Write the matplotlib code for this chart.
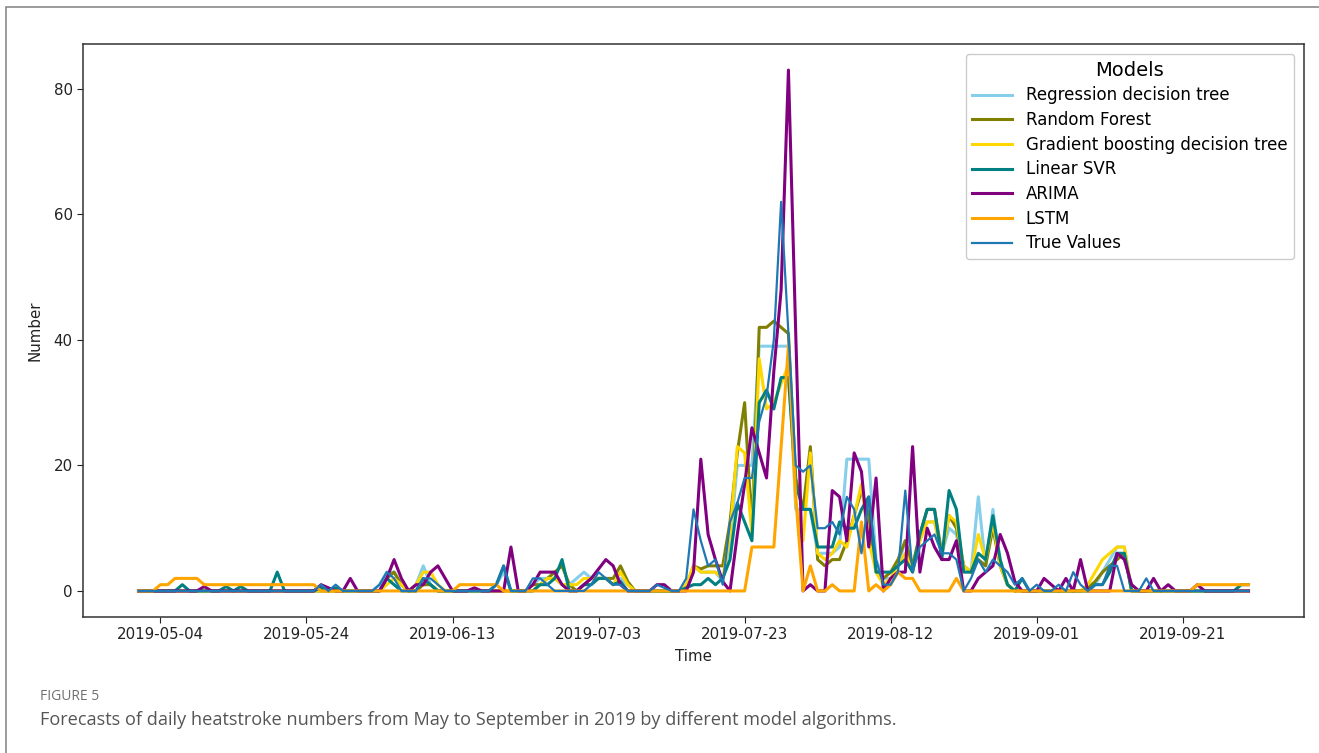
import matplotlib
matplotlib.use("Agg")
import matplotlib.pyplot as plt
import matplotlib.dates as mdates
import pandas as pd
from matplotlib.patches import Rectangle

# ---------------- data (daily, 2019-05-01 .. 2019-09-30) ----------------
start_date = "2019-05-01"
end_date = "2019-09-30"

true_values = [
    0, 0, 0, 0, 0, 0, 0, 0, 0, 0,
    0, 0, 0, 0, 0, 0, 0, 0, 0, 0,
    0, 0, 0, 0, 0, 1, 0, 1, 0, 0,
    0, 0, 0, 1, 3, 2, 0, 0, 0, 2,
    2, 1, 0, 0, 0, 0, 0, 0, 0, 1,
    4, 0, 0, 0, 2, 2, 1, 0, 0, 0,
    0, 0, 1, 3, 2, 1, 1, 0, 0, 0,
    0, 1, 0.5, 0, 0, 2, 13, 8, 4, 5,
    1, 11, 14, 18, 18, 27, 31, 40, 62, 41,
    20, 19, 20, 10, 10, 11, 9, 15, 13, 6,
    15, 5, 1, 1, 3, 16, 3, 7, 8, 9,
    6, 6, 5, 0, 2, 5, 3, 5, 4, 3,
    1, 2, 0, 1, 0, 0, 1, 0, 3, 1,
    0, 1, 1, 4, 4, 0, 0, 0, 2, 0,
    0, 0, 0, 0, 0, 0, 0, 0, 0, 0,
    0, 0, 0,
]

arima = [
    0, 0, 0, 0, 0, 0, 0, 0, 0, 0.7,
    0, 0, 0, 0, 0, 0, 0, 0, 0, 0,
    0, 0, 0, 0, 0, 1, 0.5, 0, 0, 2,
    0, 0, 0, 0, 2, 5, 2, 0, 1, 1,
    3, 4, 2, 0, 0, 0, 0.5, 0, 0, 0,
    0, 7, 0, 0, 1, 3, 3, 3, 1, 0,
    0, 1, 2, 3.5, 5, 4, 1, 0, 0, 0,
    0, 1, 1, 0, 0, 0, 3, 21, 9, 5,
    1.5, 0, 9, 17, 26, 22, 18, 35, 48, 83,
    41, 0, 1, 0, 0, 16, 15, 8, 22, 19,
    7, 18, 0, 2, 3, 3, 23, 3, 10, 7,
    5, 5, 8, 0, 0, 2, 3, 4, 9, 6,
    1.5, 0, 0, 0, 2, 1, 0, 2, 0, 5,
    0, 0, 0, 0, 6, 5, 1, 0, 0, 2,
    0, 1, 0, 0, 0, 1, 0, 0, 0, 0,
    0, 0, 0,
]

linear_svr = [
    0, 0, 0, 0, 0, 0, 1, 0, 0, 0,
    0, 0, 0.7, 0, 0.7, 0, 0, 0, 0, 3,
    0, 0, 0, 0, 0, 0.5, 0, 0.5, 0, 0,
    0, 0, 0, 0, 2, 1, 0, 0, 0, 2,
    1, 0, 0, 0, 0, 0, 0, 0, 0, 1,
    4, 0, 0, 0, 0, 1, 1, 2, 5, 0,
    0, 1, 1, 2, 2, 1, 1.5, 0, 0, 0,
    0, 0, 0, 0, 0, 0.5, 1, 1, 2, 1,
    2, 5, 14, 11, 8, 30, 32, 29, 34, 34,
    17, 13, 13, 7, 7, 7, 11, 10, 10, 13,
    15, 3, 3, 3, 4, 5, 3, 9, 13, 13,
    5, 16, 13, 3, 3, 6, 5, 12, 5, 1,
    0, 2, 0, 0, 0, 0, 0, 0, 0, 0,
    0, 1, 1, 3, 6, 6, 0, 0, 0, 0,
    0, 0, 0, 0, 0, 0, 0, 0, 0, 0,
    0, 1, 1,
]

random_forest = [
    0, 0, 0, 0, 0, 0, 0, 0, 0, 0,
    0, 0, 0, 0, 0, 0, 0, 0, 0, 0,
    0, 0, 0, 0, 0, 0, 0, 0, 0, 0,
    0, 0, 0, 0, 2, 3, 1, 0, 0, 1,
    1, 0, 0, 0, 0, 0, 0, 0, 0, 0,
    0, 0, 0, 0, 1, 1, 2, 3, 4, 1,
    0, 1, 2, 2, 2, 2, 4, 1.5, 0, 0,
    0, 0, 0, 0, 0, 0.5, 4, 3.5, 4, 4,
    4, 11, 22, 30, 10, 42, 42, 43, 42, 41,
    18, 13, 23, 5, 4, 5, 5, 8, 12, 16,
    12, 3, 2, 3, 5, 8, 4, 9, 13, 13,
    6, 12, 10, 4, 3, 5, 4, 10, 4, 1,
    0, 0, 0, 0, 0, 0, 0, 0, 0, 0,
    0.5, 1.5, 3, 4, 5, 6, 0, 0, 0, 0,
    0, 0, 0, 0, 0, 0, 0, 0, 0, 0,
    0, 0, 0,
]

gbdt = [
    0, 0, 0, 0, 0, 0, 0, 0, 0, 0,
    0, 0, 0, 0, 0, 0, 0, 0, 0, 0,
    0, 0, 0, 0, 0, 0, 0, 0, 0, 0,
    0, 0, 0, 0, 1, 2, 1, 0, 1, 3,
    3, 1, 0, 0, 0, 0, 0, 0, 0, 0,
    0, 0, 0, 0, 0, 1, 2, 2, 1, 1,
    1, 2, 2, 2, 2, 1, 3, 1, 0, 0,
    0, 0, 0, 0, 0, 1, 4, 3, 3, 3,
    2, 9, 23, 22, 9, 37, 29, 30, 33, 36,
    14, 8, 22, 6, 5, 6, 8, 7, 12, 17,
    8, 3, 1, 2, 4, 6, 3, 8, 11, 11,
    6, 12, 11, 4, 3, 9, 5, 11, 4, 1,
    0, 0, 0, 0, 0, 0, 0, 0, 0, 0,
    1, 3, 5, 6, 7, 7, 0, 0, 0, 0,
    0, 0, 0, 0, 0, 0, 0, 0, 0, 0,
    0, 0, 0,
]

regression_tree = [
    0, 0, 0, 0, 0, 0, 0, 0, 0, 0,
    0, 0, 0, 0, 0, 0, 0, 0, 0, 0,
    0, 0, 0, 0, 0, 0, 0, 0, 0, 0,
    0, 0, 0, 1, 3, 3, 1, 0, 1, 4,
    1, 0, 0, 0, 0, 0, 0, 0, 0, 1,
    3, 0, 0, 0, 1, 2, 2, 2, 1, 1,
    2, 3, 2, 2, 2, 1, 2, 1, 0, 0,
    0, 0, 0, 0, 0, 0.5, 4, 3, 3, 3,
    1.5, 8, 20, 20, 20, 39, 39, 39, 39, 39,
    13, 13, 13, 6, 6, 6, 7, 21, 21, 21,
    21, 5, 2, 2, 4, 8, 4, 9, 11, 11,
    6, 10, 9, 4, 3, 15, 4, 13, 4, 1,
    0, 0, 0, 0, 0, 0, 0, 0, 0, 0,
    0, 1, 3, 5, 7, 7, 0, 0, 0, 0,
    0, 0, 0, 0, 0, 0, 0, 0, 0, 0,
    0, 0, 0,
]

lstm = [
    0, 0, 0, 1, 1, 2, 2, 2, 2, 1,
    1, 1, 1, 1, 1, 1, 1, 1, 1, 1,
    1, 1, 1, 1, 1, 0, 0, 0, 0, 0,
    0, 0, 0, 0, 0, 0, 0, 0, 0, 0,
    0, 0, 0, 0, 1, 1, 1, 1, 1, 1,
    0, 0, 0, 0, 0, 0, 0, 0, 0, 0,
    0, 0, 0, 0, 0, 0, 0, 0, 0, 0,
    0, 0, 0, 0, 0, 0, 0, 0, 0, 0,
    0, 0, 0, 0, 7, 7, 7, 7, 23, 39,
    15, 0, 4, 0, 0, 1, 0, 0, 0, 11,
    0, 1, 0, 1, 3, 2, 2, 0, 0, 0,
    0, 0, 2, 0, 0, 0, 0, 0, 0, 0,
    0, 0, 0, 0, 0, 0, 0, 0, 0, 0,
    0, 0, 0, 0, 0, 0, 0, 0, 0, 0,
    0, 0, 0, 0, 0, 1, 1, 1, 1, 1,
    1, 1, 1,
]

model_names = ["Regression decision tree", "Random Forest",
               "Gradient boosting decision tree", "Linear SVR",
               "ARIMA", "LSTM", "True Values"]
tick_start = "2019-05-04"
tick_step_days = 20
n_ticks = 8

# ---------------- figure ----------------
W, H = 1319, 753
fig = plt.figure(figsize=(W / 100, H / 100), dpi=100)
fig.patch.set_facecolor("white")

ax_l, ax_r, ax_t, ax_b = 83, 1304, 44, 617
ax = fig.add_axes([ax_l / W, 1 - ax_b / H, (ax_r - ax_l) / W, (ax_b - ax_t) / H])

dates = pd.date_range(start_date, end_date, freq="D")
series = [regression_tree, random_forest, gbdt, linear_svr, arima, lstm, true_values]
colors = ["#87CEEB", "#808000", "#FFD700", "#008080", "#800080", "#FFA500", "#1f77b4"]
widths = [2.2, 2.2, 2.2, 2.2, 2.2, 2.2, 1.6]

for name, vals, c, lw in zip(model_names, series, colors, widths):
    ax.plot(dates, vals, color=c, lw=lw, label=name)

ticks = pd.date_range(tick_start, periods=n_ticks, freq=f"{tick_step_days}D")
ax.set_xticks(ticks)
ax.xaxis.set_major_formatter(mdates.DateFormatter("%Y-%m-%d"))
ax.set_yticks([0, 20, 40, 60, 80])
ax.tick_params(labelsize=10.8, colors="#222222", length=4)
for s in ax.spines.values():
    s.set_color("#333333")
    s.set_linewidth(1.1)

ax.set_xlabel("Time", fontsize=10.8, color="#222222", labelpad=5)
ax.set_ylabel("Number", fontsize=10.8, color="#222222", labelpad=8)

leg = ax.legend(title="Models", loc="upper right", fontsize=12, title_fontsize=14,
                handlelength=2.4, labelspacing=0.4, borderaxespad=0.6,
                framealpha=1.0, edgecolor="#cccccc", fancybox=True)

# caption
fig.text(40 / W, 1 - 697 / H, "FIGURE 5", fontsize=10, color="#707070",
         family="Open Sans", va="center", ha="left")
cap = fig.text(40 / W, 1 - 720 / H,
               "Forecasts of daily heatstroke numbers from May to September in 2019 by different model algorithms.",
               fontsize=12, color="#555555", family="Open Sans", va="center", ha="left")
fig.canvas.draw()
r = fig.canvas.get_renderer()
wpx = cap.get_window_extent(r).width
cap.set_fontsize(12 * 853 / wpx)

# outer frame
fig.add_artist(Rectangle((6 / W, -0.2), 1.5, 1.2 - 7 / H, transform=fig.transFigure,
                         fill=False, edgecolor="#8a8a8a", lw=1.2, clip_on=False))

fig.savefig("out.png", dpi=100)
